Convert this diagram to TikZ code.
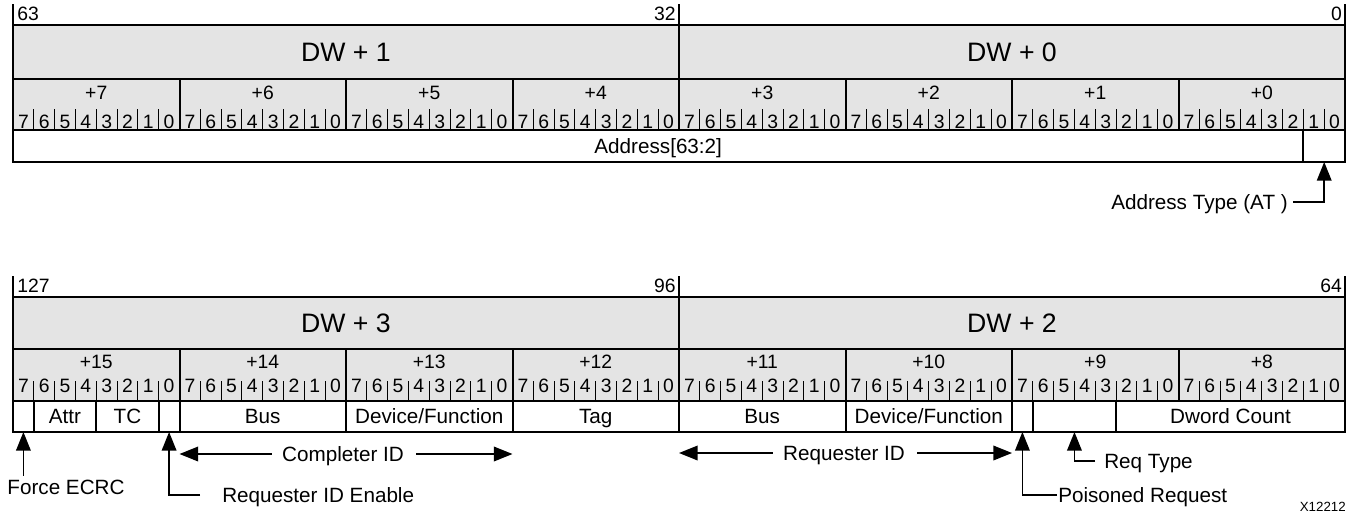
\documentclass[tikz,border=0pt]{standalone}
\usepackage{fontspec}
\setmainfont{Liberation Sans}
\usetikzlibrary{arrows.meta,calc,fit}
\definecolor{cellgray}{RGB}{228,228,228}
\begin{document}
\begin{tikzpicture}[x=0.75pt,y=-0.75pt,
  frame/.style={draw, line width=1.5pt, inner sep=0pt, outer sep=0pt},
  graycell/.style={frame, fill=cellgray},
  whitecell/.style={frame, fill=white},
  dwtext/.style={font=\fontsize{20}{24}\selectfont, inner sep=0pt, text depth=0pt},
  smalltext/.style={font=\fontsize{14.5}{17}\selectfont, inner sep=0pt, text depth=0pt},
  fieldtext/.style={font=\fontsize{15.5}{18}\selectfont, inner sep=0pt, text depth=0pt},
  tinytext/.style={font=\fontsize{10}{12}\selectfont, inner sep=0pt, text depth=0pt},
  bitsep/.style={line width=0.75pt},
  tickline/.style={line width=1pt},
  arr/.style={line width=1.1pt, -{Triangle[length=14pt,width=11pt]}},
]
\useasboundingbox (0,0) rectangle (1358,514);

% ---------- two register blocks ----------
\foreach \B/\T/\D/\Y/\F/\bl/\bn/\sep/\L/\R/\off/\lab/\tick in
   {t/25/79/130/162/92.5/121.5/109/1/0/0/14/4,
    b/297/349/401/432/361.5/386/381/3/2/8/286/276}{
  \node[graycell, fit={(13,\T)(679,\D)}] (\B dwl) {};
  \node[dwtext] (\B dwltext) at (\B dwl.center) {DW + \L};
  \node[graycell, fit={(679,\T)(1345,\D)}] (\B dwr) {};
  \node[dwtext] (\B dwrtext) at (\B dwr.center) {DW + \R};
  \foreach \p in {0,...,7}{
    \pgfmathsetmacro\xa{13+\p*166.5}
    \pgfmathsetmacro\xb{\xa+166.5}
    \pgfmathtruncatemacro\k{\off+7-\p}
    \node[graycell, fit={(\xa,\D)(\xb,\Y)}] (\B byte\p) {};
    \node[smalltext] (\B bytelabel\p) at ({(\xa+\xb)/2},\bl) {+\k};
    \foreach \j in {0,...,7}{
      \pgfmathsetmacro\xc{\xa+(\j+0.5)*20.8125}
      \pgfmathtruncatemacro\d{7-\j}
      \node[smalltext] (\B bit\p-\j) at (\xc,\bn) {\d};
    }
    \foreach \j in {1,...,7}{
      \draw[bitsep] ({\xa+\j*20.8125},\sep) -- ({\xa+\j*20.8125},\Y);
    }
  }
  \draw[tickline] (13,\T) -- (13,\tick);
  \draw[tickline] (679,\T) -- (679,\tick);
  \draw[tickline] (1345,\T) -- (1345,\tick);
}

% ---------- bit index labels ----------
\node[smalltext, anchor=west] (l63) at (17,14) {63};
\node[smalltext, anchor=east] (l32) at (676,14) {32};
\node[smalltext, anchor=east] (l0) at (1342,14) {0};
\node[smalltext, anchor=west] (l127) at (17,286) {127};
\node[smalltext, anchor=east] (l96) at (676,286) {96};
\node[smalltext, anchor=east] (l64) at (1342,286) {64};

% ---------- top field row ----------
\node[whitecell, fit={(13,130)(1303.4,162)}] (addr) {};
\node[fieldtext] (addrtext) at (addr.center) {Address[63:2]};
\node[whitecell, fit={(1303.4,130)(1345,162)}] (at) {};

% ---------- bottom field row ----------
\node[whitecell, fit={(13,401)(33.81,432)}] (fe) {};
\node[whitecell, fit={(33.81,401)(96.25,432)}] (attr) {};
\node[fieldtext] at (attr.center) {Attr};
\node[whitecell, fit={(96.25,401)(158.69,432)}] (tc) {};
\node[fieldtext] at (tc.center) {TC};
\node[whitecell, fit={(158.69,401)(179.5,432)}] (rie) {};
\node[whitecell, fit={(179.5,401)(346,432)}] (bus14) {};
\node[fieldtext] at (bus14.center) {Bus};
\node[whitecell, fit={(346,401)(512.5,432)}] (df13) {};
\node[fieldtext] at (df13.center) {Device/Function};
\node[whitecell, fit={(512.5,401)(679,432)}] (tag) {};
\node[fieldtext] at (tag.center) {Tag};
\node[whitecell, fit={(679,401)(845.5,432)}] (bus11) {};
\node[fieldtext] at (bus11.center) {Bus};
\node[whitecell, fit={(845.5,401)(1012,432)}] (df10) {};
\node[fieldtext] at (df10.center) {Device/Function};
\node[whitecell, fit={(1012,401)(1032.81,432)}] (pois) {};
\node[whitecell, fit={(1032.81,401)(1116.06,432)}] (rt) {};
\node[whitecell, fit={(1116.06,401)(1345,432)}] (dwc) {};
\node[fieldtext] at (dwc.center) {Dword Count};

% ---------- annotations ----------
\node[fieldtext, anchor=east] (atl) at (1288,202) {Address Type (AT )};
\draw[arr] ($(atl.east)+(5,0)$) -| (at.south);

\node[fieldtext] (fel) at (66,487) {Force ECRC};
\draw[arr] ($(fe.south |- fel.north)+(0,-4)$) -- (fe.south);

\node[fieldtext, anchor=west] (riel) at (222,495) {Requester ID Enable};
\draw[arr] ($(riel.west)+(-22,0)$) -| (rie.south);

\node[fieldtext] (cid) at (343,454) {Completer ID};
\draw[arr] ($(cid.west)+(-10,0)$) -- (cid.west -| bus14.west);
\draw[arr] ($(cid.east)+(12,0)$) -- (cid.east -| df13.east);

\node[fieldtext] (rid) at (844,453) {Requester ID};
\draw[arr] ($(rid.west)+(-10,0)$) -- (rid.west -| bus11.west);
\draw[arr] ($(rid.east)+(12,0)$) -- (rid.east -| df10.east);

\node[fieldtext, anchor=west] (prl) at (1058,495) {Poisoned Request};
\draw[arr] ($(prl.west)+(-1,0)$) -| (pois.south);

\node[fieldtext, anchor=west] (rtl) at (1104,461) {Req Type};
\draw[arr] ($(rtl.west)+(-9,0)$) -| (rt.south);

\node[tinytext, anchor=east] (fig) at (1346,507) {X12212};
\end{tikzpicture}
\end{document}
